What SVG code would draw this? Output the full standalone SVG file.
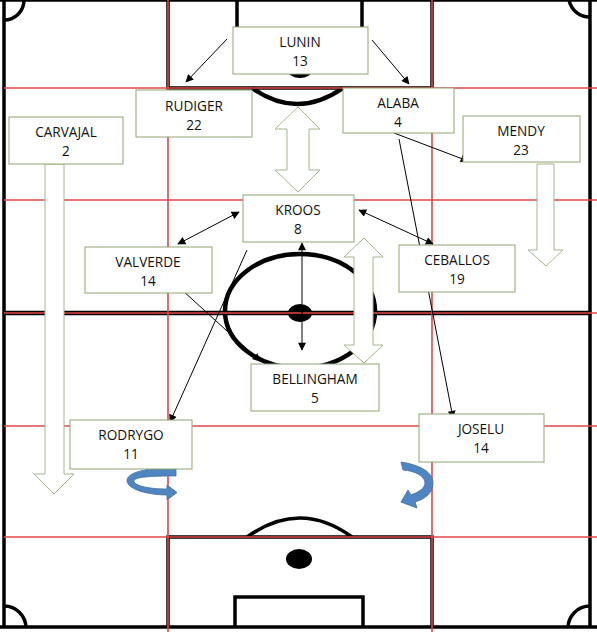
<svg xmlns="http://www.w3.org/2000/svg" width="597" height="632" viewBox="0 0 597 632">
<style>
.pl{fill:none;stroke:#000;stroke-width:3.5}
.rd{fill:none;stroke:#e04848;stroke-width:1.6}
.nd rect{fill:#fff;stroke:#90a472;stroke-width:1}
.nd text{font-family:"Open Sans","Liberation Sans",sans-serif;font-size:13.6px;fill:#111;text-anchor:middle}
.cn{fill:none;stroke:#000;stroke-width:1}
.blk{fill:#fff;stroke:#a5b68c;stroke-width:1}
.cv{fill:#4f85c0;stroke:#3f6fa5;stroke-width:0.8}
</style>
<defs>
<marker id="ah" viewBox="0 0 10 10" refX="9" refY="5" markerWidth="9" markerHeight="8" markerUnits="userSpaceOnUse" orient="auto-start-reverse">
<path d="M0,0 L10,5 L0,10 Z" fill="#000"/>
</marker>
</defs>
<rect width="597" height="632" fill="#fff"/>
<g id="pitch">
<line class="pl" x1="0" y1="0" x2="597" y2="0"/>
<line class="pl" x1="4" y1="0" x2="4" y2="628"/>
<line class="pl" x1="590" y1="0" x2="590" y2="628"/>
<line class="pl" x1="0" y1="627" x2="597" y2="627"/>
<path class="pl" d="M4,20 A20,20 0 0 0 24,0"/>
<path class="pl" d="M569,0 A21,21 0 0 0 590,17"/>
<path class="pl" d="M4,606 A22,22 0 0 1 26,628"/>
<path class="pl" d="M568,628 A22,22 0 0 1 590,606"/>
<path class="pl" d="M168,0 V88 H432 V0"/>
<path class="pl" d="M237,0 V50 H362 V0"/>
<ellipse cx="300" cy="70" rx="12" ry="8" fill="#000"/>
<path d="M252,88 Q297,120 343,88" fill="none" stroke="#000" stroke-width="4.5"/>
<line x1="4" y1="313" x2="590" y2="313" stroke="#000" stroke-width="4.5"/>
<ellipse cx="300" cy="311" rx="75" ry="57" fill="none" stroke="#000" stroke-width="4.5"/>
<ellipse cx="300" cy="313" rx="12" ry="9" fill="#000"/>
<path class="pl" d="M168,628 V537 H432 V628"/>
<path class="pl" d="M235,628 V597 H363 V628"/>
<ellipse cx="299" cy="559" rx="13" ry="10" fill="#000"/>
<path class="pl" d="M247,537 Q300,499 352,537"/>
</g>
<g id="grid">
<line class="rd" x1="168" y1="0" x2="168" y2="632"/>
<line class="rd" x1="432" y1="0" x2="432" y2="632"/>
<line class="rd" x1="4" y1="88" x2="597" y2="88"/>
<line class="rd" x1="4" y1="200" x2="597" y2="200"/>
<line class="rd" x1="4" y1="313" x2="597" y2="313"/>
<line class="rd" x1="4" y1="426" x2="597" y2="426"/>
<line class="rd" x1="4" y1="537" x2="597" y2="537"/>
</g>
<g id="movement-arrows">
<path class="blk" d="M45,164 H64 V474 H74 L54,494 L34,474 H45 Z"/>
<path class="blk" d="M537,164 H554 V250 H563 L546,266 L528,250 H537 Z"/>
<path class="blk" d="M298,107 L320,129 H309 V170 H320 L298,192 L275,170 H287 V129 H275 Z"/>
<path class="blk" d="M364,238 L383,257 H373 V345 H383 L364,363 L344,345 H354 V257 H344 Z"/>
<path class="cv" d="M176,468 C146,467 126,473 127,481 C128,490 150,495 167,495 L167,500 L177,492.5 L167,485 L167,489 C150,489 134,486 134,481 C134,477 150,476 176,476 Z"/>
<path class="cv" d="M401,462 C420,465 433,472 433,483 C433,493 425,499 415,502 L417,508 L401,502 L408,490 L411,495 C419,492 425,488 425,483 C425,476 415,471 403,470 Z"/>
</g>
<g id="connectors">
<line class="cn" x1="227" y1="39" x2="186" y2="82" marker-end="url(#ah)"/>
<line class="cn" x1="372" y1="40" x2="409" y2="84" marker-end="url(#ah)"/>
<line class="cn" x1="394" y1="133" x2="468" y2="161" marker-end="url(#ah)"/>
<line class="cn" x1="399" y1="139" x2="453" y2="418" marker-end="url(#ah)"/>
<line class="cn" x1="239" y1="212" x2="178" y2="244" marker-start="url(#ah)" marker-end="url(#ah)"/>
<line class="cn" x1="359" y1="210" x2="433" y2="244" marker-start="url(#ah)" marker-end="url(#ah)"/>
<line class="cn" x1="302" y1="243" x2="302" y2="350" stroke-width="2" marker-start="url(#ah)" marker-end="url(#ah)"/>
<line class="cn" x1="182" y1="290" x2="260" y2="361" marker-end="url(#ah)"/>
<line class="cn" x1="247" y1="250" x2="170" y2="422" marker-end="url(#ah)"/>
</g>
<g id="lunin" class="nd"><rect x="233" y="27" width="135" height="47"/><text x="300" y="47">LUNIN</text><text x="300" y="66">13</text></g>
<g id="rudiger" class="nd"><rect x="136" y="90" width="116" height="47"/><text x="194" y="111">RUDIGER</text><text x="194" y="130">22</text></g>
<g id="alaba" class="nd"><rect x="343" y="88" width="111" height="45"/><text x="398" y="108">ALABA</text><text x="398" y="127">4</text></g>
<g id="carvajal" class="nd"><rect x="9" y="117" width="114" height="47"/><text x="66" y="137">CARVAJAL</text><text x="66" y="156">2</text></g>
<g id="mendy" class="nd"><rect x="463" y="116" width="117" height="46"/><text x="521" y="136">MENDY</text><text x="521" y="155">23</text></g>
<g id="kroos" class="nd"><rect x="243" y="195" width="111" height="47"/><text x="298" y="215">KROOS</text><text x="298" y="234">8</text></g>
<g id="valverde" class="nd"><rect x="85" y="247" width="127" height="46"/><text x="148" y="267">VALVERDE</text><text x="148" y="286">14</text></g>
<g id="ceballos" class="nd"><rect x="399" y="245" width="116" height="47"/><text x="457" y="265">CEBALLOS</text><text x="457" y="284">19</text></g>
<g id="bellingham" class="nd"><rect x="251" y="364" width="128" height="47"/><text x="315" y="384">BELLINGHAM</text><text x="315" y="403">5</text></g>
<g id="rodrygo" class="nd"><rect x="70" y="420" width="122" height="49"/><text x="131" y="440">RODRYGO</text><text x="131" y="459">11</text></g>
<g id="joselu" class="nd"><rect x="419" y="414" width="125" height="48"/><text x="481" y="434">JOSELU</text><text x="481" y="453">14</text></g>
</svg>
